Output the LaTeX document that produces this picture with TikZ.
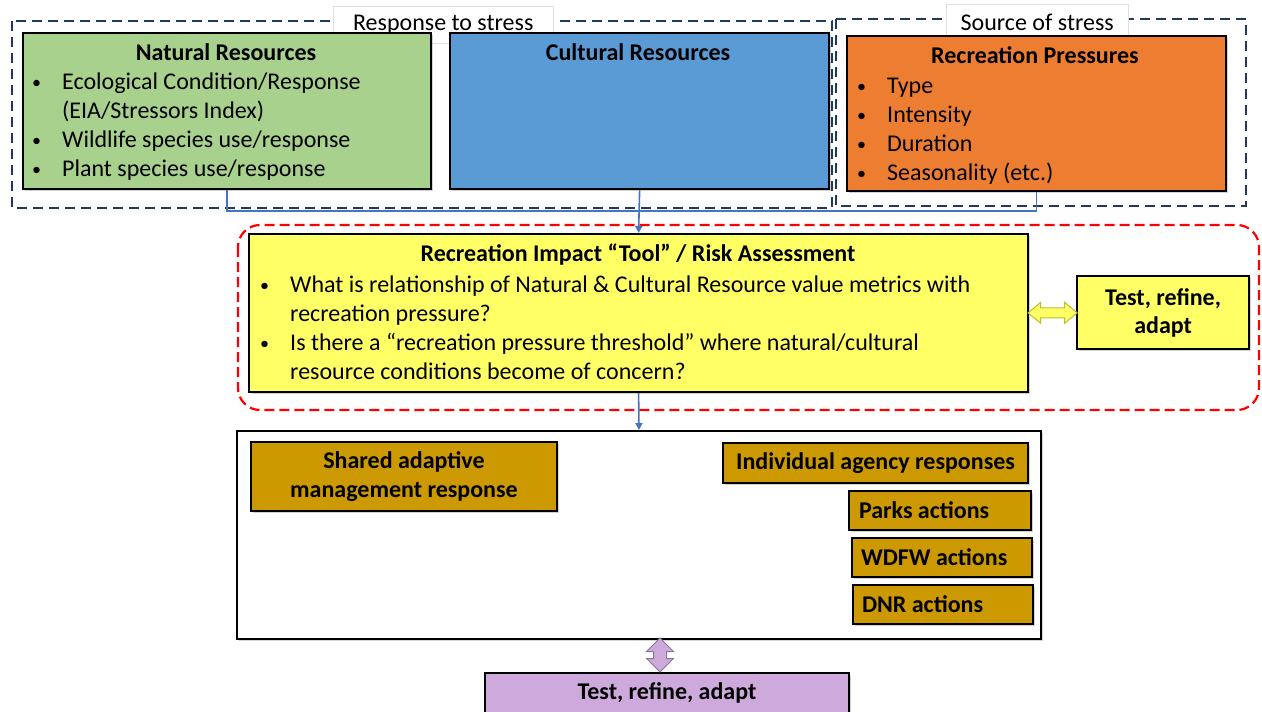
\documentclass[tikz,border=0pt]{standalone}
\usepackage{fontspec}
\setmainfont{Carlito}
\usepackage{tikz}
\usetikzlibrary{shapes.arrows, arrows.meta, positioning, calc, shadows}
\definecolor{mynavy}{RGB}{31,56,100}
\definecolor{mygreen}{RGB}{169,209,142}
\definecolor{myblue}{RGB}{91,155,213}
\definecolor{myorange}{RGB}{237,125,49}
\definecolor{myyellow}{RGB}{255,255,102}
\definecolor{myolive}{RGB}{190,190,40}
\definecolor{mybrown}{RGB}{204,153,0}
\definecolor{mypurple}{RGB}{205,170,219}
\definecolor{mypurpline}{RGB}{140,120,150}
\definecolor{mylink}{RGB}{68,114,196}
\definecolor{myred}{RGB}{255,0,0}
\newcommand{\bitem}{\makebox[32pt][l]{\hspace{2pt}\raisebox{1.5pt}{\scalebox{0.75}{\textbullet}}}}
\newcommand{\bcont}{\hspace*{32pt}}
\tikzset{
  resbox/.style={rectangle, draw=black, line width=2.2pt, anchor=north west, inner sep=0pt,
    drop shadow={shadow xshift=2pt, shadow yshift=-2pt, opacity=0.35}},
  groupframe/.style={draw=mynavy, line width=2.2pt, dash pattern=on 10pt off 6pt},
  redframe/.style={draw=myred, line width=2.2pt, dash pattern=on 10pt off 5pt, rounded corners=22pt},
  tag/.style={rectangle, fill=white, draw=gray!25, line width=0.5pt, anchor=north west,
    inner sep=0pt, font=\fontsize{24}{29}\selectfont},
  boxtitle/.style={font=\fontsize{24}{29}\selectfont\bfseries, inner sep=0pt},
  bullets/.style={align=left, anchor=north west, inner sep=0pt, font=\fontsize{24}{29}\selectfont},
  actbox/.style={resbox, fill=mybrown, line width=2pt, font=\fontsize{24}{29}\selectfont\bfseries},
  link/.style={draw=mylink, line width=1.6pt},
  linkarrow/.style={link, -{Triangle[length=7pt, width=7pt]}},
  twoway/.style={double arrow, line width=1pt, minimum width=0pt}
}
\begin{document}
\begin{tikzpicture}[x=1pt, y=-1pt]
  \useasboundingbox (0,0) rectangle (1262,712);
  % --- RESPONSE / SOURCE FRAMES ---
  \draw[groupframe] (12,21) rectangle (832,208);
  \draw[groupframe] (836,19) rectangle (1246,206);
  \node[tag, minimum width=220pt, minimum height=37pt] (resp) at (333,6) {Response to stress};
  \node[tag, minimum width=182pt, minimum height=37pt] (source) at (946,4) {Source of stress};

  \node[resbox, fill=mygreen, minimum width=408pt, minimum height=156pt] (natres) at (22,32) {};
  \node[boxtitle] (natres_t) at (226,52) {Natural Resources};
  \node[bullets] (natres_l) at (30,69) {\strut\bitem Ecological Condition/Response\\ \bcont(EIA/Stressors Index)\\
    \bitem Wildlife species use/response\\ \bitem Plant species use/response};

  \node[resbox, fill=myblue, minimum width=379pt, minimum height=156pt] (culres) at (449,32) {};
  \node[boxtitle] (culres_t) at (638,52) {Cultural Resources};

  \node[resbox, fill=myorange, minimum width=379pt, minimum height=155pt] (recpress) at (846,35) {};
  \node[boxtitle] (recpress_t) at (1035,55) {Recreation Pressures};
  \node[bullets] (recpress_l) at (855,73) {\strut\bitem Type\\ \bitem Intensity\\ \bitem Duration\\ \bitem Seasonality (etc.)};

  \coordinate (join) at (638,211);
  \draw[link] (natres.south) |- (join) -| (recpress.south);

  % --- RISK ASSESSMENT ---
  \draw[redframe] (238,225) rectangle (1259,410);
  \node[resbox, fill=myyellow, minimum width=779pt, minimum height=158pt] (tool) at (248,233) {};
  \node[boxtitle] (tool_t) at (638,255) {Recreation Impact “Tool” / Risk Assessment};
  \node[bullets] (tool_l) at (258,272) {\strut\bitem What is relationship of Natural \& Cultural Resource value metrics with\\
    \bcont recreation pressure?\\ \bitem Is there a “recreation pressure threshold” where natural/cultural\\
    \bcont resource conditions become of concern?};
  \node[resbox, fill=myyellow, minimum width=172pt, minimum height=73pt, align=center,
    font=\fontsize{24}{28}\selectfont\bfseries] (testa) at (1076,275) {Test, refine,\\adapt};
  \draw[linkarrow] (culres.south) -- (tool.north);
  \node[twoway, fill=myyellow, draw=myolive, minimum height=49pt, inner sep=4.5pt,
    double arrow head extend=5.5pt, double arrow tip angle=80] (toolarrow) at ($(tool.east)!0.5!(testa.west)$) {};

  % --- MANAGEMENT RESPONSE ---
  \node[resbox, fill=white, line width=2pt, minimum width=804pt, minimum height=208pt] (mgmt) at (236,430) {};
  \draw[linkarrow] (tool.south) -- (mgmt.north);
  \node[actbox, minimum width=306pt, minimum height=69pt, align=center] (shared) at (250,441) {Shared adaptive\\management response};
  \node[actbox, minimum width=305pt, minimum height=40pt] (indiv) at (722,442) {Individual agency responses};
  \node[actbox, minimum width=182pt, minimum height=39pt] (parks) at (848,490) {\makebox[162pt][l]{Parks actions}};
  \node[actbox, minimum width=180pt, minimum height=39pt] (wdfw) at (851,537) {\makebox[162pt][l]{WDFW actions}};
  \node[actbox, minimum width=180pt, minimum height=39pt] (dnr) at (852,584) {\makebox[162pt][l]{DNR actions}};

  \node[resbox, fill=mypurple, line width=2pt, minimum width=364pt, minimum height=40pt,
    font=\fontsize{24}{29}\selectfont\bfseries] (testb) at (484,672) {Test, refine, adapt};
  \node[twoway, fill=mypurple, draw=mypurpline, minimum height=34pt, inner sep=6pt,
    double arrow head extend=7pt, shape border rotate=90] (mgmtarrow) at (660,655) {};
\end{tikzpicture}
\end{document}
